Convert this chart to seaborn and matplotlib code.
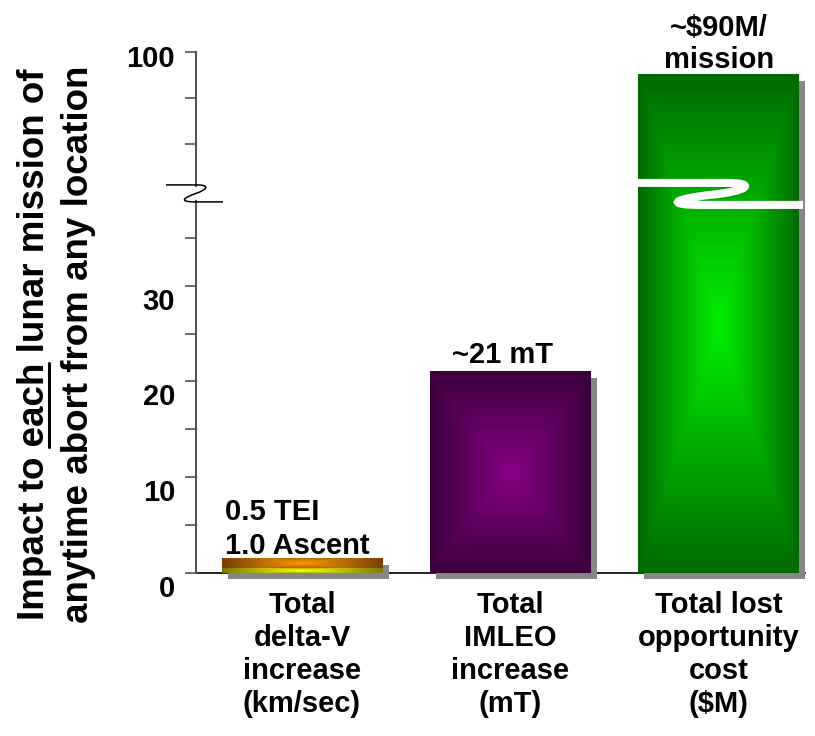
import numpy as np
import matplotlib
matplotlib.use("Agg")
import matplotlib.pyplot as plt
import matplotlib.colors as mcolors
from matplotlib.image import AxesImage
from matplotlib.patches import Rectangle, PathPatch
from matplotlib.path import Path
from matplotlib.lines import Line2D
from matplotlib.transforms import ScaledTranslation
import seaborn as sns

# ---------------------------------------------------------------- data
categories = [
    "Total\ndelta-V\nincrease\n(km/sec)",
    "Total\nIMLEO\nincrease\n(mT)",
    "Total lost\nopportunity\ncost\n($M)",
]
dv_tei = 0.5          # km/s
dv_ascent = 1.0       # km/s
imleo_increase = 21   # mT
lost_cost = 90        # $M per mission
totals = [dv_tei + dv_ascent, imleo_increase, lost_cost]
bar_labels = [
    f"{dv_tei:.1f} TEI\n{dv_ascent:.1f} Ascent",
    f"~{imleo_increase} mT",
    f"~${lost_cost}M/\nmission",
]
major_ticks = [0, 10, 20, 30, 100]
minor_ticks = [5, 15, 25, 35, 60, 80]
y_max = 100
break_value = 40
ylabel_lines = ["Impact to each lunar mission of", "anytime abort from any location"]
underlined_word = "each"

# ---------------------------------------------------------------- style
W, H = 815, 736
FS = 21
upper_slope = 0.24          # compression of the axis above the break

sns.set_theme(style="white")
plt.rcParams["font.family"] = ["Liberation Sans", "DejaVu Sans"]
plt.rcParams["font.weight"] = "bold"
plt.rcParams["text.color"] = "black"
plt.rcParams["axes.labelcolor"] = "black"
plt.rcParams["xtick.color"] = "black"
plt.rcParams["ytick.color"] = "black"

fills = {
    "ascent": ("#ff9a00", "#7a3d00", 1.0, 0.55),
    "tei": ("#ffff10", "#7a7a00", 1.0, 0.55),
    "imleo": ("#860086", "#3b003b", 1.0, 1.0),
    "cost": ("#00f000", "#006a00", 1.0, 1.0),
}


def box_gradient(center, edge, wx=1.0, wy=1.0, n=256):
    u = np.linspace(-1, 1, n)
    X, Y = np.meshgrid(u, u)
    s = np.clip(np.maximum(np.abs(X) * wx, np.abs(Y) * wy), 0, 1)
    c0 = np.array(mcolors.to_rgb(center))
    c1 = np.array(mcolors.to_rgb(edge))
    return c0 + (c1 - c0) * s[..., None]


def fwd(v):
    v = np.asarray(v, float)
    return np.where(v <= break_value, v, break_value + (v - break_value) * upper_slope)


def inv(t):
    t = np.asarray(t, float)
    return np.where(t <= break_value, t, break_value + (t - break_value) / upper_slope)


fig = plt.figure(figsize=(W / 100, H / 100), dpi=100)
fig.patch.set_facecolor("white")
ax = fig.add_axes([196 / W, 1 - 573 / H, (805 - 196) / W, (573 - 52) / H])

bar_width = 0.773
sns.barplot(x=categories, y=totals, order=categories, width=bar_width,
            color="#888888", saturation=1, errorbar=None, ax=ax)
sns.barplot(x=categories[:1], y=[dv_tei], order=categories, width=bar_width,
            color="#888888", saturation=1, errorbar=None, ax=ax)
ax.set_xlabel("")
ax.set_ylabel("")

ax.set_yscale("function", functions=(fwd, inv))
ax.set_ylim(0, y_max)
ax.set_xlim(-0.509, 2.415)

bars = list(ax.patches)
total_bars, tei_bar = bars[:3], bars[3]
for p in bars:
    p.set_facecolor("none")
    p.set_edgecolor("none")

data_to_axes = ax.transData + ax.transAxes.inverted()


def add_fill(x0, x1, y0, y1, spec, z):
    (a0, b0), (a1, b1) = data_to_axes.transform([(x0, y0), (x1, y1)])
    im = AxesImage(ax, interpolation="bilinear", origin="lower",
                   extent=(a0, a1, b0, b1), transform=ax.transAxes, zorder=z)
    im.set_data(box_gradient(*spec))
    ax.add_image(im)


# drop shadows
shadow_off = ScaledTranslation(6 / 100, -6 / 100, fig.dpi_scale_trans)
for p in total_bars:
    sh = Rectangle((p.get_x(), 0), p.get_width(), p.get_height(),
                   transform=ax.transData + shadow_off, facecolor="#868686",
                   edgecolor="none", zorder=0.9, clip_on=False)
    ax.add_artist(sh)

# gradient bodies
p0 = total_bars[0]
add_fill(p0.get_x(), p0.get_x() + p0.get_width(), dv_tei, totals[0], fills["ascent"], 2)
add_fill(tei_bar.get_x(), tei_bar.get_x() + tei_bar.get_width(), 0, dv_tei, fills["tei"], 2.1)
p1 = total_bars[1]
add_fill(p1.get_x(), p1.get_x() + p1.get_width(), 0, totals[1], fills["imleo"], 2)
p2 = total_bars[2]
add_fill(p2.get_x(), p2.get_x() + p2.get_width(), 0, totals[2], fills["cost"], 2)

# value labels
ax.annotate(bar_labels[0], xy=(p0.get_x(), totals[0]), xytext=(3, -1),
            textcoords="offset pixels", ha="left", va="bottom", color="black",
            fontsize=FS, fontweight="bold", linespacing=1.25, zorder=6)
ax.annotate(bar_labels[1], xy=(p1.get_x() + p1.get_width() / 2, totals[1]), xytext=(-8, 9),
            textcoords="offset pixels", ha="center", va="baseline", color="black",
            fontsize=FS, fontweight="bold", zorder=6)
ax.annotate(bar_labels[2], xy=(p2.get_x() + p2.get_width() / 2, totals[2]), xytext=(0, 1),
            textcoords="offset pixels", ha="center", va="bottom", color="black",
            fontsize=FS, fontweight="bold", linespacing=1.2, zorder=6,
            annotation_clip=False)

# axes styling
for s in ("top", "right"):
    ax.spines[s].set_visible(False)
ax.spines["left"].set_color("#555555")
ax.spines["left"].set_linewidth(1.5)
ax.spines["bottom"].set_color("black")
ax.spines["bottom"].set_linewidth(1.2)
ax.spines["bottom"].set_zorder(0.8)

ax.set_yticks(major_ticks)
ax.set_yticklabels([str(v) for v in major_ticks])
ax.set_yticks(minor_ticks, minor=True)
ax.tick_params(axis="y", which="both", left=True, direction="out", length=8,
               width=1.2, color="#555555", labelcolor="black", pad=7, labelsize=FS)
ax.set_xticks(range(len(categories)))
ax.set_xticklabels(categories, fontsize=FS, fontweight="bold", color="black",
                   linespacing=1.22, multialignment="center")
ax.tick_params(axis="x", length=0, pad=13, labelcolor="black")

for tick, val in zip(ax.yaxis.get_major_ticks(), major_ticks):
    drop = 4 if val == y_max else 13
    lab = tick.label1
    lab.set_transform(lab.get_transform() +
                      ScaledTranslation(0, -drop / 100, fig.dpi_scale_trans))


# break marks, drawn in pixel offsets around the break point
def offsets_to_axes(anchor, pts):
    disp = np.array([(anchor[0] + dx, anchor[1] - dy) for dx, dy in pts])
    return ax.transAxes.inverted().transform(disp)


yb = ax.transData.transform((0, break_value))[1]
ax_anchor = (ax.transAxes.transform((0, 0))[0], yb)

codes = [Path.MOVETO, Path.LINETO, Path.CURVE4, Path.CURVE4, Path.CURVE4,
         Path.CURVE4, Path.CURVE4, Path.CURVE4, Path.LINETO]

gap = offsets_to_axes(ax_anchor, [(-3, -3), (3, 10)])
ax.add_artist(Rectangle(gap[0], gap[1][0] - gap[0][0], gap[1][1] - gap[0][1],
                        transform=ax.transAxes, facecolor="white",
                        edgecolor="none", zorder=4, clip_on=False))
axis_zig = [(-30, -5), (0, -5), (16, -5), (10, 0), (0, 3.5),
            (-10, 7), (-20, 12), (0, 12), (27, 12)]
ax.add_artist(PathPatch(Path(offsets_to_axes(ax_anchor, axis_zig), codes),
                        transform=ax.transAxes, facecolor="none",
                        edgecolor="black", lw=1.1, zorder=5, clip_on=False))

cx = ax.transData.transform((p2.get_x() + p2.get_width() / 2, 0))[0]
half = (ax.transData.transform((p2.get_x() + p2.get_width(), 0))[0] - cx)
bar_zig = [(-half, -7), (9.5, -7), (36.5, -7), (31.5, 1), (-8.5, 5),
           (-50.5, 10), (-48.5, 15), (-18.5, 15), (half + 4, 15)]
ax.add_artist(PathPatch(Path(offsets_to_axes((cx, yb), bar_zig), codes),
                        transform=ax.transAxes, facecolor="none",
                        edgecolor="white", lw=5.8, capstyle="butt",
                        zorder=5, clip_on=False))

# two-line y label with the underlined word
YL = 26.5
yc = H - 344.5
baselines = [44, 88]
for line, bx in zip(ylabel_lines, baselines):
    fig.text(bx / W, yc / H, line, rotation=90, rotation_mode="anchor",
             ha="center", va="baseline", fontsize=YL, fontweight="bold",
             color="black")

renderer = fig.canvas.get_renderer()


def text_width(s):
    t = fig.text(0, 0, s, fontsize=YL, fontweight="bold")
    w = t.get_window_extent(renderer).width
    t.remove()
    return w


first = ylabel_lines[0]
k = first.index(underlined_word) + len(underlined_word)
w_line = text_width(first)
w_word = text_width(underlined_word)
u_end = yc - w_line / 2 + text_width(first[:k])
u_start = u_end - w_word
ux = baselines[0] + 5
fig.add_artist(Line2D([ux / W, ux / W], [u_start / H, u_end / H],
                      transform=fig.transFigure, color="black", lw=2.2))

fig.savefig("out.png", dpi=100, facecolor="white")
